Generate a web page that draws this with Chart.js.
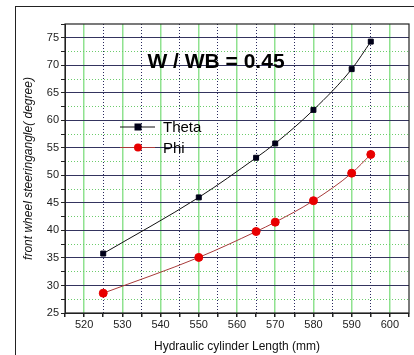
<!DOCTYPE html>
<html>
<head>
<meta charset="utf-8">
<script src="https://cdn.jsdelivr.net/npm/chart.js@4.4.0/dist/chart.umd.min.js"></script>
<style>
  body { margin: 0; background: #fff; }
  #wrap { position: relative; width: 414px; height: 355px; overflow: hidden; }
  #frame { position: absolute; left: 15px; top: 6px; width: 420px; height: 400px;
           border-left: 1.5px solid #222; border-top: 1.5px solid #222; }
  #mycanvas { position: absolute; left: 0; top: 0; }
</style>
</head>
<body>
<div id="wrap">
  <div id="frame"></div>
  <canvas id="mycanvas" width="414" height="355"></canvas>
</div>
<script>
// values
var cylinderLength = [525, 550, 565, 570, 580, 590, 595];
var theta = [35.8, 46.0, 53.2, 55.8, 61.9, 69.3, 74.3];
var phi = [28.6, 35.1, 39.8, 41.5, 45.4, 50.4, 53.8];
var seriesNames = ['Theta', 'Phi'];
var ratioText = 'W / WB = 0.45';

var FONT = "'Liberation Sans', Arial, sans-serif";

function pts(ys) {
  var out = [];
  for (var i in cylinderLength) out.push({x: cylinderLength[i], y: ys[i]});
  return out;
}
function isMult(v, m) { return Math.abs(v / m - Math.round(v / m)) < 1e-6; }

// frame, ratio text and the legend inside the plot
var extras = {
  id: 'extras',
  afterDraw: function(chart) {
    var ctx = chart.ctx, a = chart.chartArea;
    ctx.save();
    ctx.strokeStyle = '#222';
    ctx.lineWidth = 1.2;
    ctx.strokeRect(a.left, a.top, a.right - a.left, a.bottom - a.top);

    ctx.fillStyle = '#000';
    ctx.font = 'bold 21px ' + FONT;
    ctx.textAlign = 'center';
    ctx.textBaseline = 'middle';
    ctx.fillText(ratioText, 216, 62);

    var rows = [127, 147.5];
    chart.data.datasets.forEach(function(ds, i) {
      var y = rows[i];
      ctx.strokeStyle = ds.borderColor;
      ctx.lineWidth = 1;
      ctx.beginPath(); ctx.moveTo(120, y); ctx.lineTo(155, y); ctx.stroke();
      ctx.fillStyle = ds.pointBackgroundColor;
      ctx.beginPath();
      if (ds.pointStyle === 'rect') ctx.rect(134.5, y - 3.5, 7, 7);
      else ctx.arc(138, y, 4, 0, Math.PI * 2);
      ctx.fill();
      ctx.fillStyle = '#000';
      ctx.font = '15px ' + FONT;
      ctx.textAlign = 'left';
      ctx.fillText(ds.label, 163, y + 1);
    });
    ctx.restore();
  }
};

var chartdata = {
  datasets: [
    {
      label: seriesNames[0],
      data: pts(theta),
      showLine: true,
      borderColor: '#111',
      borderWidth: 1,
      pointStyle: 'rect',
      pointRadius: 3.5,
      pointBackgroundColor: '#000018',
      pointBorderColor: '#000018',
      cubicInterpolationMode: 'monotone'
    },
    {
      label: seriesNames[1],
      data: pts(phi),
      showLine: true,
      borderColor: '#a83a3a',
      borderWidth: 1,
      pointStyle: 'circle',
      pointRadius: 4,
      pointBackgroundColor: '#e80000',
      pointBorderColor: '#e80000',
      cubicInterpolationMode: 'monotone'
    }
  ]
};

var ctx = document.getElementById('mycanvas');
var chart = new Chart(ctx, {
  type: 'scatter',
  data: chartdata,
  plugins: [extras],
  options: {
    responsive: false,
    animation: false,
    devicePixelRatio: 1,
    layout: { padding: 0 },
    plugins: { legend: { display: false }, tooltip: { enabled: false } },
    scales: {
      x: {
        type: 'linear', position: 'bottom', min: 515, max: 605,
        afterFit: function(s) { s.height = 42; },
        ticks: {
          stepSize: 5, autoSkip: false, maxRotation: 0, padding: 1,
          color: '#222', font: { family: FONT, size: 11 },
          callback: function(v) { return isMult(v, 10) ? v : ''; }
        },
        grid: {
          color: function(c) {
            var v = c.tick.value;
            return (isMult(v, 10) && v > 515 && v < 605) ? '#8fe28f' : 'rgba(0,0,0,0)';
          },
          lineWidth: 1.5, tickColor: '#222', tickLength: 4
        },
        border: { color: '#222' },
        title: {
          display: true, text: 'Hydraulic cylinder Length (mm)', color: '#111',
          font: { family: FONT, size: 12 }, padding: { top: 0, bottom: 1 }
        }
      },
      x2: {
        type: 'linear', position: 'top', min: 515, max: 605,
        afterFit: function(s) { s.height = 24; },
        ticks: { display: false, stepSize: 5 },
        grid: {
          color: function(c) {
            var v = c.tick.value;
            return (!isMult(v, 10) && v > 515 && v < 605) ? '#2a2a5e' : 'rgba(0,0,0,0)';
          },
          lineWidth: 1, drawTicks: false
        },
        border: { display: false, dash: [1, 2] }
      },
      y: {
        type: 'linear', position: 'left', min: 25, max: 77.5,
        afterFit: function(s) { s.width = 65; },
        ticks: {
          stepSize: 2.5, autoSkip: false, padding: 2,
          color: '#222', font: { family: FONT, size: 11 },
          callback: function(v) { return (isMult(v, 5)) ? v : ''; }
        },
        grid: {
          color: function(c) {
            var v = c.tick.value;
            return (isMult(v, 5) && v > 25) ? '#34345e' : 'rgba(0,0,0,0)';
          },
          lineWidth: 1, tickColor: '#222', tickLength: 4
        },
        border: { color: '#222' },
        title: {
          display: true, text: 'front wheel steeringangle( degree)', color: '#111',
          font: { family: FONT, size: 12, style: 'italic' }, padding: { top: 21, bottom: 0 }
        }
      },
      y2: {
        type: 'linear', position: 'right', min: 25, max: 77.5,
        afterFit: function(s) { s.width = 3; },
        ticks: { display: false, stepSize: 2.5 },
        grid: {
          color: function(c) {
            var v = c.tick.value;
            return (!isMult(v, 5) && v < 77.5) ? '#6ccc6c' : 'rgba(0,0,0,0)';
          },
          lineWidth: 1, drawTicks: false
        },
        border: { display: false, dash: [1, 2] }
      }
    }
  }
});
</script>
</body>
</html>
